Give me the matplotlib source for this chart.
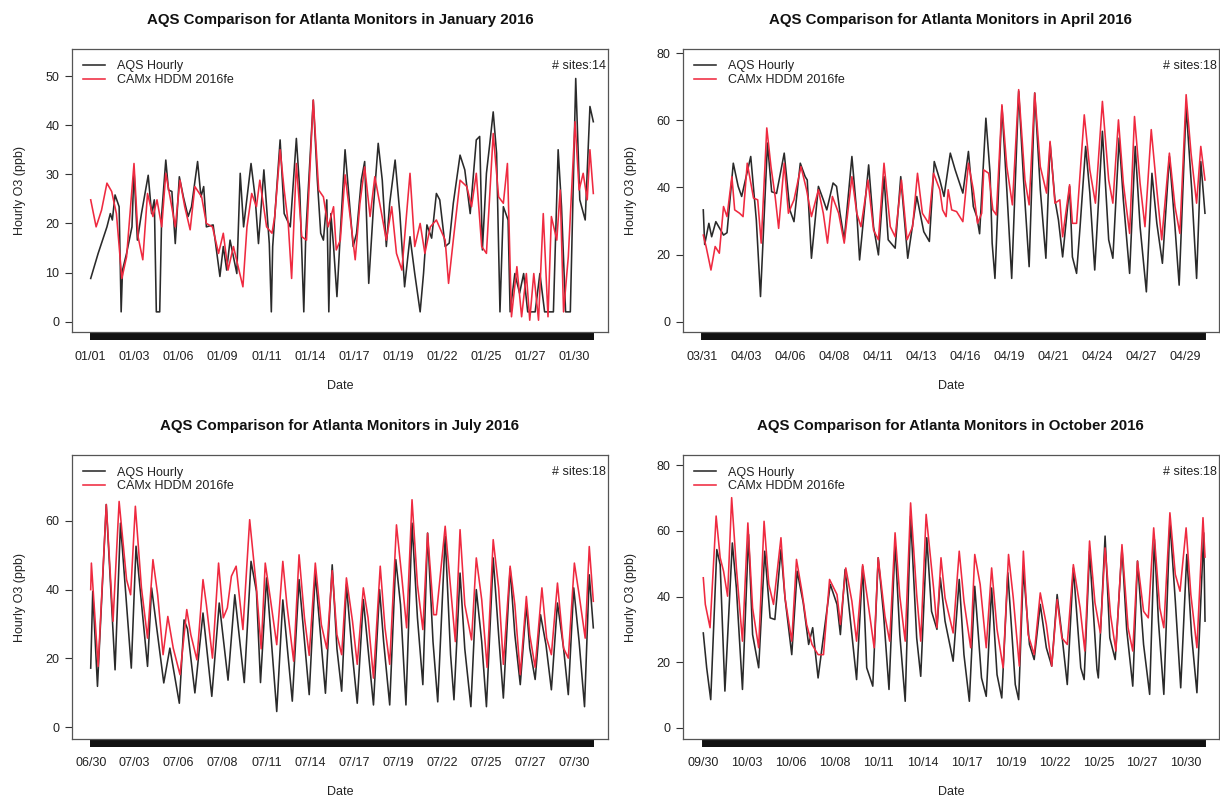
import matplotlib
matplotlib.use("Agg")
import matplotlib.pyplot as plt
import numpy as np

plt.rcParams['font.family'] = ['Liberation Sans', 'DejaVu Sans']

# ---------------- data: (hour since first record, ppb) ----------------
jan_aqs = [(0,8.8),(11,13.9),(24,19.3),(29,22.0),(32,20.7),(36,25.8),(42,23.4),(45,2.0),(47,10.5),(53,13.9),(61,19.3),(64,30.9),(69,16.6),(75,22.0),(85,29.8),(90,22.0),(94,24.8),(97,2.0),(102,2.0),(105,22.0),(111,32.9),(115,26.8),(120,26.5),(125,15.9),(131,29.5),(137,25.4),(144,21.4),(149,23.4),(158,32.6),(163,25.4),(167,27.5),(171,19.3),(181,19.7),(191,9.2),(196,15.3),(201,10.5),(206,16.6),(216,9.8),(221,30.2),(226,19.3),(237,32.2),(243,25.4),(248,15.9),(256,30.9),(264,15.9),(267,2.0),(269,15.3),(280,37.0),(286,22.0),(295,19.3),(304,37.3),(309,26.8),(315,2.0),(318,18.0),(329,45.1),(335,28.8),(340,18.0),(344,16.6),(349,24.8),(352,2.0),(355,22.0),(359,15.3),(364,5.1),(369,18.0),(376,35.0),(383,23.4),(388,15.3),(393,18.0),(400,28.8),(405,32.6),(411,7.8),(418,23.4),(425,36.3),(431,28.8),(437,15.3),(442,24.1),(450,32.9),(457,22.0),(464,7.1),(472,17.3),(479,9.8),(487,2.0),(492,9.8),(497,19.7),(504,17.0),(511,26.1),(516,24.8),(524,15.3),(530,16.0),(536,24.1),(546,33.9),(553,30.9),(561,22.0),(570,37.0),(575,37.7),(579,14.6),(585,30.2),(590,36.3),(595,42.7),(600,34.3),(605,2.0),(610,23.4),(617,20.7),(620,2.0),(627,9.8),(634,5.8),(640,9.8),(646,2.0),(657,2.0),(664,9.8),(671,2.0),(684,2.0),(691,35.0),(696,23.4),(702,2.0),(709,2.0),(717,49.5),(723,24.8),(731,20.7),(738,43.8),(743,40.7)]
jan_camx = [(0,24.8),(8,19.3),(16,22.7),(24,28.2),(31,26.5),(38,22.0),(46,8.8),(53,13.2),(64,32.2),(70,17.3),(77,12.6),(84,26.1),(92,21.4),(98,24.8),(105,19.3),(111,30.2),(118,24.8),(125,19.3),(132,28.8),(139,23.4),(147,18.7),(154,27.5),(164,25.4),(171,20.0),(180,19.3),(189,13.9),(196,18.0),(203,10.5),(211,15.3),(218,11.2),(225,7.1),(231,19.3),(238,26.1),(245,23.4),(250,28.8),(260,19.3),(268,18.0),(272,21.4),(280,35.0),(286,26.8),(292,20.0),(297,8.8),(304,32.2),(312,17.3),(319,16.6),(329,45.1),(337,26.8),(344,25.4),(351,19.3),(359,23.4),(363,14.6),(369,16.6),(376,29.9),(383,22.0),(391,12.6),(398,24.1),(405,31.5),(413,21.4),(420,29.5),(430,22.0),(437,16.6),(445,23.4),(452,13.9),(460,10.5),(472,30.2),(479,15.3),(487,20.0),(494,13.9),(502,19.3),(511,20.7),(524,16.6),(529,7.8),(536,16.6),(546,28.8),(556,27.5),(563,23.4),(570,30.2),(578,15.3),(585,13.9),(595,38.3),(603,25.4),(610,24.1),(616,32.2),(622,1.0),(630,11.2),(637,1.0),(644,9.8),(649,0.3),(655,9.8),(662,0.3),(669,22.0),(676,1.0),(681,21.4),(689,16.6),(694,26.8),(699,2.0),(706,13.2),(716,40.7),(722,26.8),(728,30.2),(734,24.8),(738,35.0),(743,26.1)]

apr_aqs = [(0,33.3),(2,23.0),(8,29.3),(12,25.3),(18,29.8),(29,25.8),(34,26.5),(43,47.2),(50,40.3),(55,37.3),(68,49.2),(76,30.3),(82,7.5),(92,53.2),(98,38.7),(105,38.2),(116,50.2),(124,33.3),(130,29.8),(139,47.2),(146,43.2),(149,42.2),(155,18.9),(165,40.3),(172,36.3),(177,33.3),(186,41.3),(191,40.3),(196,32.3),(202,24.4),(213,49.2),(220,32.3),(224,18.4),(237,46.7),(244,28.3),(251,19.9),(259,43.2),(265,24.4),(275,21.9),(283,43.2),(293,18.9),(306,37.3),(316,26.8),(324,23.9),(331,47.7),(339,42.2),(345,37.3),(354,50.2),(361,45.2),(372,38.3),(380,50.7),(387,34.3),(392,31.3),(396,26.2),(405,60.6),(411,44.2),(414,23.4),(418,12.9),(428,64.1),(435,39.3),(442,12.9),(452,68.6),(459,42.2),(467,16.4),(475,68.1),(483,39.3),(491,18.9),(497,53.2),(504,36.3),(509,30.3),(515,19.3),(525,40.3),(529,19.3),(535,14.4),(540,28.3),(548,52.2),(554,38.3),(561,15.4),(572,56.7),(581,24.4),(587,18.9),(596,54.7),(602,36.3),(611,14.4),(619,52.2),(626,28.3),(635,8.9),(643,44.2),(650,29.3),(658,17.4),(668,49.2),(676,28.3),(682,10.9),(692,64.1),(700,39.3),(707,12.9),(713,47.7),(719,32.3)]
apr_camx = [(0,25.8),(4,22.4),(11,15.4),(17,22.4),(23,20.4),(29,34.3),(34,31.3),(41,43.2),(45,33.3),(52,32.3),(57,31.3),(63,47.2),(72,36.8),(78,36.3),(83,23.4),(91,57.7),(97,46.2),(103,37.3),(108,27.8),(116,47.2),(122,32.3),(130,36.3),(140,46.2),(148,39.3),(155,31.3),(165,39.3),(172,32.3),(178,23.4),(185,37.3),(194,32.3),(202,23.4),(213,43.2),(220,32.3),(226,28.3),(236,42.2),(244,27.3),(251,24.4),(259,47.2),(268,28.3),(275,25.3),(284,42.2),(292,24.4),(300,28.3),(307,44.2),(314,32.3),(323,29.3),(330,44.2),(339,39.3),(343,33.3),(348,31.3),(351,39.3),(356,33.3),(363,32.8),(372,29.8),(380,47.2),(387,39.3),(393,29.3),(399,32.3),(402,45.2),(409,44.2),(415,33.3),(420,31.8),(428,64.6),(435,46.2),(443,34.8),(452,69.1),(461,42.2),(467,34.8),(475,68.1),(483,46.2),(492,38.3),(497,53.7),(504,35.3),(511,36.3),(515,25.3),(525,40.8),(529,29.3),(535,29.3),(546,61.6),(554,45.2),(562,35.3),(572,65.6),(581,42.2),(587,35.3),(595,60.1),(602,41.2),(611,26.3),(618,61.1),(626,41.2),(633,28.3),(642,57.2),(650,39.3),(657,24.4),(668,50.2),(676,34.3),(683,26.3),(692,67.6),(699,50.2),(707,35.3),(713,52.2),(719,42.2)]

jul_aqs = [(0,17.2),(3,39.5),(10,11.9),(23,64.7),(36,16.7),(44,59.3),(60,17.2),(67,52.6),(84,17.7),(90,40.5),(108,12.9),(117,23.0),(131,7.0),(138,31.2),(143,28.6),(154,10.0),(166,33.2),(179,9.0),(190,36.1),(203,13.7),(213,38.5),(227,13.0),(237,48.2),(245,39.5),(251,13.0),(260,43.4),(275,4.6),(284,37.0),(298,7.6),(308,42.9),(323,9.5),(332,44.8),(347,9.9),(357,47.2),(364,22.8),(371,10.5),(378,41.4),(386,22.8),(394,7.0),(403,37.1),(410,22.8),(418,6.5),(427,40.0),(433,24.9),(442,6.5),(451,48.7),(458,35.6),(466,6.5),(475,59.3),(483,31.8),(491,12.4),(498,56.4),(506,24.9),(513,7.4),(524,55.5),(532,21.1),(537,8.0),(546,44.8),(553,22.8),(562,6.0),(570,40.0),(578,24.9),(585,6.0),(595,49.2),(603,26.9),(610,8.5),(620,46.1),(627,26.9),(635,12.4),(644,35.6),(649,23.0),(657,13.9),(665,32.7),(673,24.0),(681,10.9),(690,36.1),(699,23.0),(706,9.5),(714,40.5),(722,24.9),(730,6.0),(737,44.3),(743,28.9)]
jul_camx = [(0,40.0),(1,47.7),(11,17.7),(23,64.7),(33,30.8),(42,65.6),(53,42.9),(59,38.5),(66,64.2),(75,40.5),(84,25.9),(92,48.7),(99,38.5),(107,21.1),(114,32.2),(122,23.0),(132,15.3),(142,34.2),(148,26.9),(157,19.6),(166,42.9),(171,35.6),(180,20.1),(189,47.7),(196,31.8),(202,34.7),(208,43.9),(215,46.8),(225,28.4),(235,60.3),(245,40.5),(252,22.8),(258,47.7),(266,36.8),(275,24.0),(284,48.2),(290,35.6),(300,19.2),(308,50.1),(316,31.8),(323,20.9),(332,47.7),(341,29.8),(349,22.8),(357,45.5),(364,26.9),(371,21.1),(378,43.4),(387,30.8),(394,18.3),(403,40.5),(410,31.8),(418,14.3),(428,46.8),(435,28.9),(442,18.3),(452,58.8),(460,43.4),(467,28.9),(475,66.1),(483,41.4),(491,28.4),(498,56.4),(507,32.7),(511,32.7),(524,58.4),(532,40.5),(539,24.9),(546,57.4),(553,35.6),(563,25.4),(570,49.2),(578,37.1),(586,17.4),(595,54.5),(603,40.5),(610,18.3),(620,46.8),(627,35.6),(635,15.3),(644,38.0),(649,26.9),(657,17.4),(667,40.5),(674,25.9),(681,21.1),(690,41.9),(699,23.0),(706,20.1),(715,47.7),(722,38.5),(731,25.9),(737,52.5),(743,36.6)]

oct_aqs = [(0,28.9),(5,18.3),(11,8.6),(20,54.3),(25,49.7),(32,11.2),(43,56.3),(49,42.6),(58,11.7),(67,58.9),(73,28.4),(82,18.3),(91,53.8),(99,33.5),(106,33.0),(115,54.3),(121,39.6),(131,22.3),(139,47.7),(148,38.1),(156,25.4),(162,30.5),(170,15.2),(188,43.7),(198,37.6),(203,28.4),(210,48.2),(227,14.7),(236,49.2),(242,18.3),(251,12.7),(259,51.8),(267,34.5),(275,11.7),(284,56.3),(291,28.4),(299,8.1),(307,64.5),(316,27.4),(322,15.7),(331,57.9),(338,35.5),(346,30.0),(351,45.7),(358,32.5),(370,20.3),(379,45.2),(386,22.3),(394,8.1),(402,43.1),(412,15.2),(419,9.6),(427,42.6),(435,16.2),(442,9.1),(451,47.2),(462,13.2),(467,8.6),(474,48.2),(483,25.4),(490,20.8),(499,37.6),(508,24.4),(516,18.8),(524,40.6),(531,28.4),(539,13.2),(548,48.7),(559,18.3),(564,14.7),(572,53.8),(583,17.8),(585,15.2),(595,58.4),(602,27.4),(610,20.8),(620,54.8),(627,29.9),(636,12.7),(643,50.8),(652,25.4),(661,10.2),(668,57.4),(674,32.5),(682,10.2),(691,62.9),(699,38.6),(707,12.2),(716,52.8),(723,28.4),(731,10.7),(741,59.4),(743,32.5)]
oct_camx = [(0,45.7),(3,37.6),(10,30.5),(19,64.5),(25,51.8),(30,47.7),(36,40.1),(42,70.1),(49,48.7),(58,26.4),(66,62.4),(73,36.5),(82,24.4),(90,62.9),(97,43.7),(104,37.6),(115,57.9),(121,39.6),(131,26.4),(138,51.3),(146,41.6),(153,31.5),(161,25.4),(170,22.3),(178,22.3),(187,45.2),(198,40.6),(203,31.5),(211,48.7),(220,38.6),(227,26.4),(236,49.7),(247,33.5),(253,24.4),(259,51.8),(269,34.0),(276,26.4),(284,59.4),(291,40.1),(299,26.4),(307,68.5),(316,40.6),(322,26.4),(330,65.0),(341,42.6),(346,30.5),(352,51.8),(358,39.6),(370,28.9),(379,53.8),(386,38.6),(396,24.4),(402,52.8),(410,43.7),(419,24.4),(427,48.7),(435,30.0),(444,18.3),(452,52.8),(459,39.6),(468,18.8),(474,53.8),(481,28.4),(490,22.3),(499,41.1),(508,31.5),(516,18.8),(524,39.1),(531,27.4),(539,25.4),(548,49.7),(558,36.5),(565,23.4),(572,56.9),(580,38.1),(588,28.9),(595,54.8),(603,34.5),(611,23.4),(620,55.8),(629,30.5),(636,23.4),(643,50.8),(652,35.5),(659,33.5),(667,60.9),(676,36.5),(682,30.5),(691,65.5),(699,46.7),(706,41.6),(715,60.9),(722,40.6),(731,24.4),(740,64.0),(743,52.0)]

jan_ticks = ["01/01","01/03","01/06","01/09","01/11","01/14","01/17","01/19","01/22","01/25","01/27","01/30"]
apr_ticks = ["03/31","04/03","04/06","04/08","04/11","04/13","04/16","04/19","04/21","04/24","04/27","04/29"]
jul_ticks = ["06/30","07/03","07/06","07/08","07/11","07/14","07/17","07/19","07/22","07/25","07/27","07/30"]
oct_ticks = ["09/30","10/03","10/06","10/08","10/11","10/14","10/17","10/19","10/22","10/25","10/27","10/30"]

months = ["January", "April", "July", "October"]
n_hours = [744, 720, 744, 744]
n_sites = [14, 18, 18, 18]
series_labels = ["AQS Hourly", "CAMx HDDM 2016fe"]

# ---------------- layout ----------------
W, H = 1220, 799
panels = [
    dict(aqs=jan_aqs, camx=jan_camx, ticks=jan_ticks, t0=0, step=65,
         xlim=(-28.1, 764.7), ylim=(-2.2, 55.5), yticks=np.arange(0, 51, 10),
         box=(71.7, 49.0, 608.0, 332.5)),
    dict(aqs=apr_aqs, camx=apr_camx, ticks=apr_ticks, t0=-2, step=63,
         xlim=(-29.5, 739.1), ylim=(-3.2, 81.2), yticks=np.arange(0, 81, 20),
         box=(682.7, 49.0, 1219.0, 332.5)),
    dict(aqs=jul_aqs, camx=jul_camx, ticks=jul_ticks, t0=0, step=65,
         xlim=(-28.1, 764.7), ylim=(-3.3, 79.0), yticks=np.arange(0, 61, 20),
         box=(71.7, 455.3, 608.0, 738.7)),
    dict(aqs=oct_aqs, camx=oct_camx, ticks=oct_ticks, t0=0, step=65,
         xlim=(-30.5, 763.7), ylim=(-3.3, 83.0), yticks=np.arange(0, 81, 20),
         box=(682.7, 455.3, 1219.0, 738.7)),
]

AQS_COLOR = '#2a2a2a'
CAMX_COLOR = '#ef2a40'

fig = plt.figure(figsize=(W / 100, H / 100), dpi=100)
for i, p in enumerate(panels):
    x0, y0, x1, y1 = p['box']
    ax = fig.add_axes([x0 / W, 1 - y1 / H, (x1 - x0) / W, (y1 - y0) / H])
    t, v = zip(*p['aqs'])
    ax.plot(t, v, color=AQS_COLOR, lw=1.15, label=series_labels[0],
            solid_joinstyle='round')
    t, v = zip(*p['camx'])
    ax.plot(t, v, color=CAMX_COLOR, lw=1.15, label=series_labels[1],
            solid_joinstyle='round')

    ax.set_xlim(*p['xlim'])
    ax.set_ylim(*p['ylim'])
    ax.set_yticks(p['yticks'])
    tick_pos = [p['t0'] + k * p['step'] for k in range(len(p['ticks']))]
    ax.set_xticks(tick_pos)
    ax.set_xticklabels(p['ticks'])
    ax.set_xticks(np.arange(n_hours[i]), minor=True)
    ax.tick_params(axis='x', which='both', length=6, width=1.4, color='#111111',
                   direction='out', pad=7, labelsize=9, labelcolor='#222222')
    ax.tick_params(axis='y', length=5, width=0.8, color='#333333', pad=4,
                   labelsize=9, labelcolor='#222222')
    for s in ax.spines.values():
        s.set_linewidth(0.9)
        s.set_color('#555555')

    ax.set_title(f"AQS Comparison for Atlanta Monitors in {months[i]} 2016",
                 fontsize=10.8, fontweight='bold', pad=18, color='#111111')
    ax.set_xlabel("Date", fontsize=9, color='#222222')
    ax.xaxis.set_label_coords(0.5, -0.168)
    ax.set_ylabel("Hourly O3 (ppb)", fontsize=9, color='#222222')
    ax.yaxis.set_label_coords(-0.085, 0.5)

    leg = ax.legend(loc='upper left', bbox_to_anchor=(0.021, 0.96), frameon=False,
                    fontsize=9, handlelength=1.8, handletextpad=0.9,
                    labelspacing=0.14, borderpad=0, borderaxespad=0)
    for txt in leg.get_texts():
        txt.set_color('#222222')
    ax.text(0.996, 0.94, f"# sites:{n_sites[i]}", transform=ax.transAxes,
            ha='right', va='center', fontsize=9, color='#222222')

fig.savefig("out.png", dpi=100, facecolor='white')
